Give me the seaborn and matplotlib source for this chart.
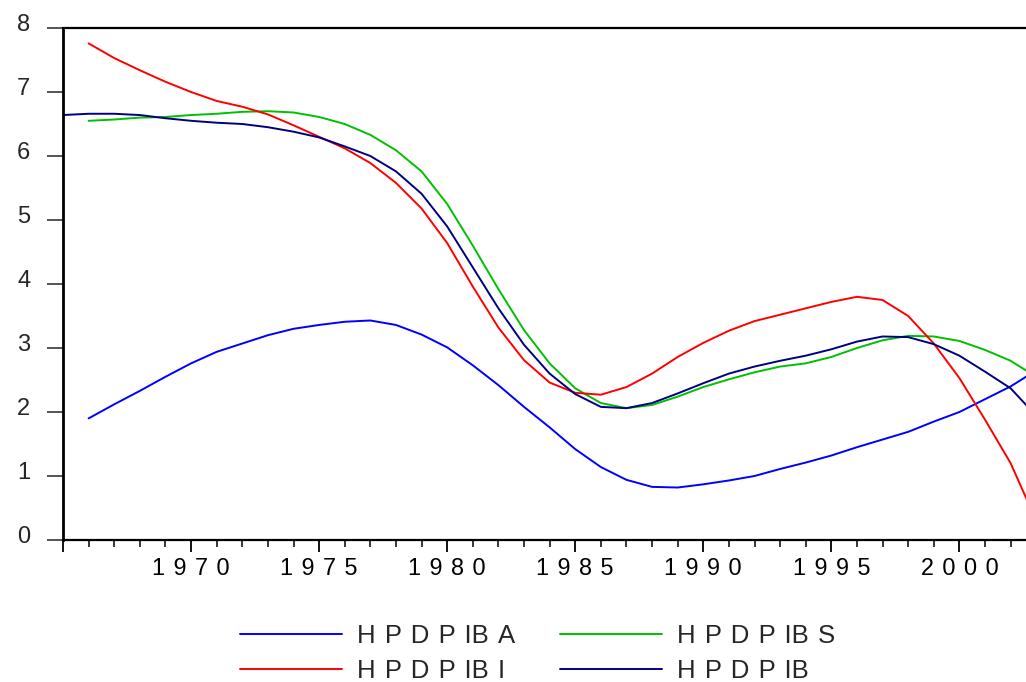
import numpy as np
import pandas as pd
import matplotlib
matplotlib.use("Agg")
import matplotlib.pyplot as plt
import matplotlib.transforms as mtransforms
from matplotlib.ticker import MultipleLocator, FixedLocator
import seaborn as sns

years = list(range(1965, 2004))

hpdpiba = [np.nan, 1.90, 2.12, 2.33, 2.55, 2.76, 2.94, 3.07, 3.20, 3.30, 3.36,
           3.41, 3.43, 3.36, 3.21, 3.01, 2.73, 2.42, 2.08, 1.76, 1.42,
           1.14, 0.94, 0.83, 0.82, 0.87, 0.93, 1.00, 1.11, 1.21, 1.32,
           1.45, 1.57, 1.69, 1.85, 2.00, 2.20, 2.40, 2.65]
hpdpibs = [np.nan, 6.55, 6.57, 6.60, 6.61, 6.64, 6.66, 6.69, 6.70, 6.68, 6.61,
           6.50, 6.33, 6.09, 5.76, 5.25, 4.60, 3.92, 3.28, 2.76, 2.37,
           2.14, 2.06, 2.11, 2.24, 2.39, 2.51, 2.62, 2.71, 2.76, 2.86,
           3.00, 3.12, 3.19, 3.18, 3.11, 2.97, 2.80, 2.55]
hpdpibi = [np.nan, 7.76, 7.53, 7.34, 7.16, 7.00, 6.86, 6.77, 6.65, 6.48, 6.30,
           6.12, 5.89, 5.58, 5.18, 4.64, 3.96, 3.32, 2.81, 2.46, 2.30,
           2.27, 2.39, 2.60, 2.86, 3.08, 3.27, 3.42, 3.52, 3.62, 3.72,
           3.80, 3.75, 3.50, 3.07, 2.53, 1.88, 1.20, 0.30]
hpdpib = [6.64, 6.66, 6.66, 6.64, 6.59, 6.55, 6.52, 6.50, 6.45, 6.38, 6.29,
          6.15, 6.00, 5.76, 5.41, 4.90, 4.26, 3.62, 3.05, 2.60, 2.28,
          2.08, 2.06, 2.14, 2.29, 2.45, 2.60, 2.71, 2.80, 2.88, 2.98,
          3.10, 3.18, 3.17, 3.06, 2.88, 2.63, 2.37, 1.94]

SP = " \u200a"
series_names = ["HPDPIBA", "HPDPIBS", "HPDPIBI", "HPDPIB"]
legend_labels = {
    "HPDPIBA": SP.join(["H", "P", "D", "P", "IB", "A"]),
    "HPDPIBS": SP.join(["H", "P", "D", "P", "IB", "S"]),
    "HPDPIBI": SP.join(["H", "P", "D", "P", "IB", "I"]),
    "HPDPIB": SP.join(["H", "P", "D", "P", "IB"]),
}
series_colors = ["#0000FF", "#00C000", "#FF0000", "#000080"]
xtick_years = [1965, 1970, 1975, 1980, 1985, 1990, 1995, 2000]
xtick_labels = ["" if y == 1965 else SP.join(str(y)) for y in xtick_years]
ytick_vals = [0, 1, 2, 3, 4, 5, 6, 7, 8]

frames = []
for name, vals in zip(series_names, [hpdpiba, hpdpibs, hpdpibi, hpdpib]):
    frames.append(pd.DataFrame({"year": years, "value": vals, "series": name}))
df = pd.concat(frames, ignore_index=True).dropna()

sns.set_style("white")
plt.rcParams["font.family"] = ["Liberation Sans", "DejaVu Sans"]

fig = plt.figure(figsize=(10.26, 6.82), dpi=100)
ax = fig.add_axes([63 / 1026, 1 - 540 / 682, 1 - 63 / 1026, (540 - 28) / 682])

sns.lineplot(data=df, x="year", y="value", hue="series", hue_order=series_names,
             palette=series_colors, linewidth=1.4, legend=False, ax=ax)

ax.set_xlim(1965, 2002.6)
ax.set_ylim(0, 8)
ax.set_xlabel("")
ax.set_ylabel("")

ax.xaxis.set_major_locator(FixedLocator(xtick_years))
ax.set_xticklabels(xtick_labels)
ax.xaxis.set_minor_locator(MultipleLocator(1))
ax.set_yticks(ytick_vals)
ax.set_yticklabels([str(v) for v in ytick_vals])

ax.tick_params(axis="x", which="major", direction="out", length=8.5, width=1.3,
               labelsize=16.8, pad=4, bottom=True, colors="black")
ax.tick_params(axis="x", which="minor", direction="out", length=5, width=1.3, bottom=True)
ax.tick_params(axis="y", which="major", direction="out", length=11.5, width=1.1,
               labelsize=17, pad=12, left=True)

offset = mtransforms.ScaledTranslation(0, 5.5 / 100, fig.dpi_scale_trans)
for lbl in ax.get_yticklabels():
    lbl.set_transform(lbl.get_transform() + offset)

for side in ["left", "bottom", "top"]:
    ax.spines[side].set_visible(True)
    ax.spines[side].set_color("black")
ax.spines["left"].set_linewidth(2.0)
ax.spines["bottom"].set_linewidth(1.6)
ax.spines["top"].set_linewidth(1.6)
ax.spines["right"].set_visible(False)

lines = ax.get_lines()
handles = {name: ln for name, ln in zip(series_names, lines)}
order = ["HPDPIBA", "HPDPIBI", "HPDPIBS", "HPDPIB"]
fig.legend([handles[n] for n in order], [legend_labels[n] for n in order],
           loc="center", bbox_to_anchor=(538 / 1026, 1 - 653.4 / 682), ncol=2,
           frameon=False, fontsize=18.5, handlelength=3.97, handletextpad=0.58,
           columnspacing=1.75, labelspacing=0.4, borderpad=0, borderaxespad=0)

fig.savefig("out.png", dpi=100)
